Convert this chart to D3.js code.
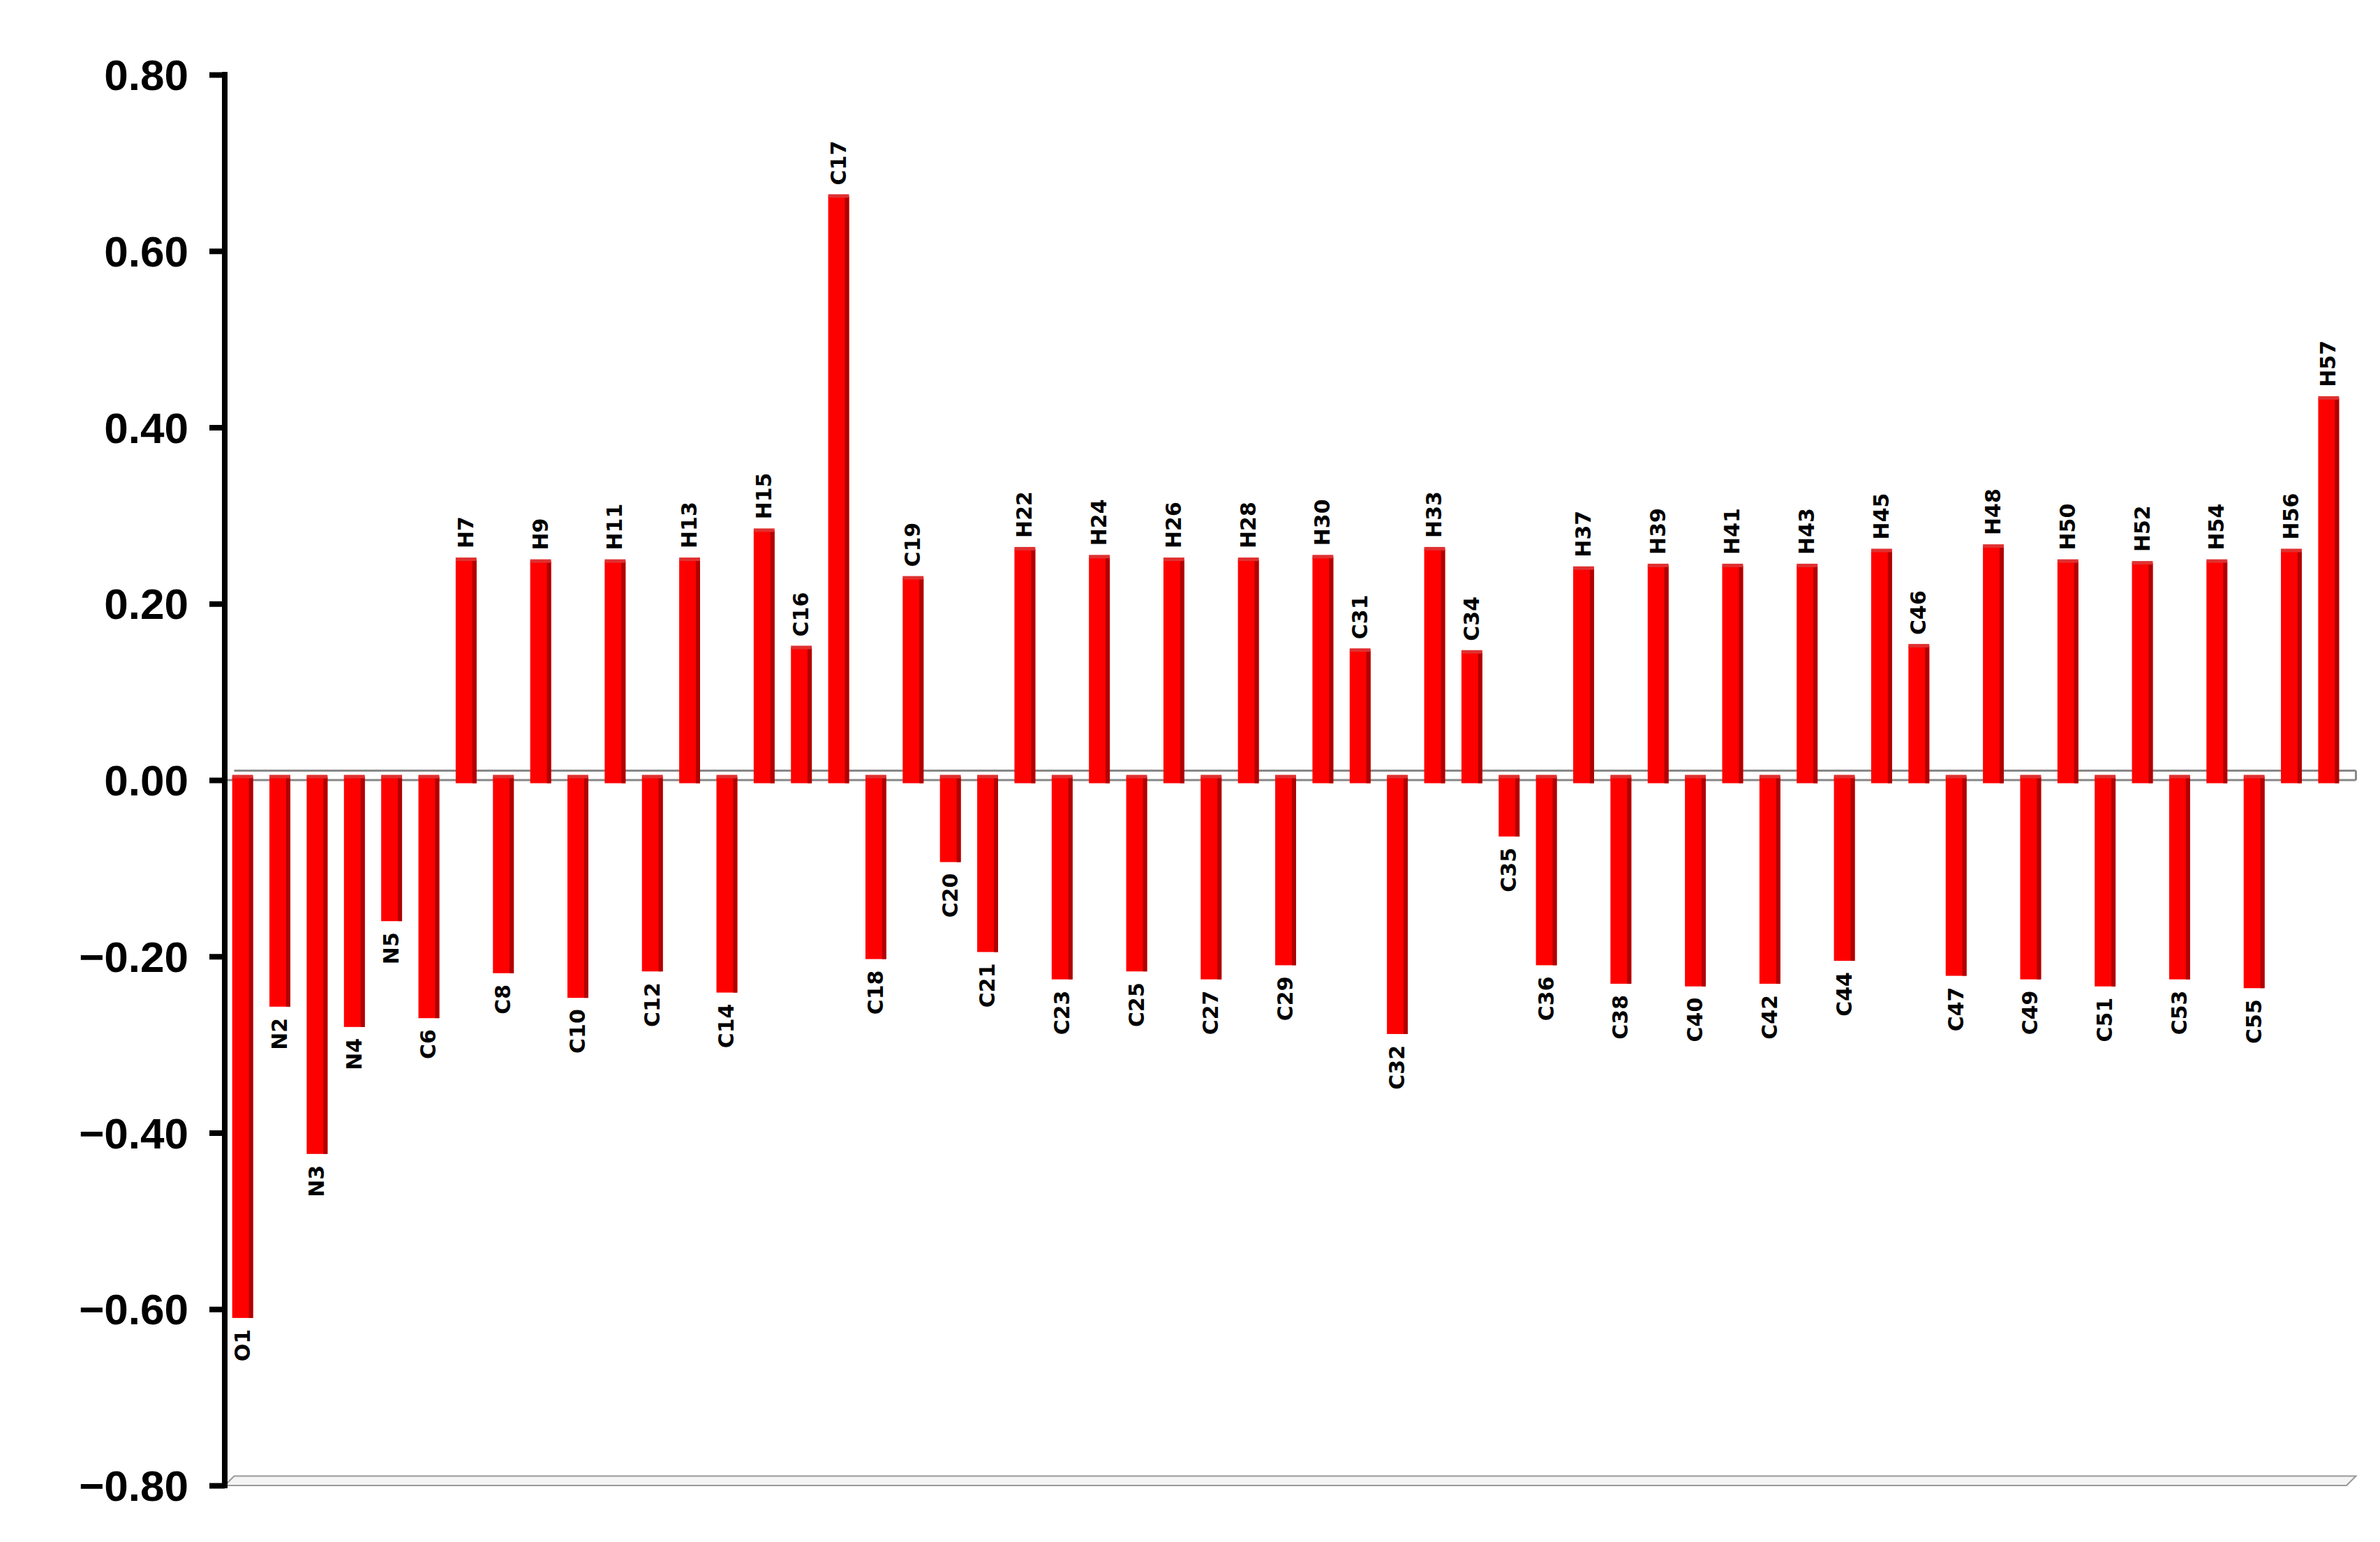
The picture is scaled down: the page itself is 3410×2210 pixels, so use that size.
<!DOCTYPE html>
<html>
<head>
<meta charset="utf-8">
<script src="https://cdn.jsdelivr.net/npm/d3@7"></script>
<style>
  body { margin: 0; background: #fff; }
</style>
</head>
<body>
<svg id="chart" width="3410" height="2210"></svg>
<script>
var atoms = ["O1","N2","N3","N4","N5","C6","H7","C8","H9","C10","H11","C12","H13","C14","H15","C16","C17","C18","C19","C20",
  "C21","H22","C23","H24","C25","H26","C27","H28","C29","H30","C31","C32","H33","C34","C35","C36","H37","C38","H39","C40",
  "H41","C42","H43","C44","H45","C46","C47","H48","C49","H50","C51","H52","C53","H54","C55","H56","H57"];
var charges = [-0.61,-0.257,-0.424,-0.28,-0.16,-0.27,0.25,-0.219,0.248,-0.247,0.248,-0.217,0.25,-0.241,0.283,0.15,0.662,-0.203,0.229,-0.093,
  -0.195,0.262,-0.226,0.253,-0.217,0.25,-0.226,0.25,-0.21,0.253,0.147,-0.288,0.262,0.145,-0.064,-0.21,0.24,-0.231,0.243,-0.234,
  0.243,-0.231,0.243,-0.205,0.26,0.152,-0.222,0.265,-0.226,0.248,-0.234,0.246,-0.226,0.248,-0.236,0.26,0.433];
var yTicks = [-0.8,-0.6,-0.4,-0.2,0,0.2,0.4,0.6,0.8];

var svg = d3.select("#chart");
var plotLeft = 322, plotRight = 3362, plotTop = 107, plotBottom = 2129;
var dx = 9, dy = 9; // depth of the fake 3d

var x = d3.scaleBand().domain(atoms).range([plotLeft, plotRight]).paddingInner(0.44).paddingOuter(0.2);
var y = d3.scaleLinear().domain([-0.8, 0.8]).range([plotBottom, plotTop]);

// floor at -0.80
svg.append("path")
  .attr("d", "M" + plotLeft + "," + plotBottom + "L" + (plotLeft + dx*1.5) + "," + (plotBottom - dy*1.5) +
        "L" + (plotRight + dx*1.5) + "," + (plotBottom - dy*1.5) + "L" + plotRight + "," + plotBottom + "Z")
  .attr("fill", "#f4f4f4").attr("stroke", "#999").attr("stroke-width", 2);

// zero plane
var y0 = y(0);
svg.append("line").attr("x1", plotLeft).attr("x2", plotRight + dx*1.5).attr("y1", y0).attr("y2", y0)
  .attr("stroke", "#888").attr("stroke-width", 3);
svg.append("line").attr("x1", plotLeft + dx*1.5).attr("x2", plotRight + dx*1.5).attr("y1", y0 - dy*1.5).attr("y2", y0 - dy*1.5)
  .attr("stroke", "#888").attr("stroke-width", 3);
svg.append("line").attr("x1", plotRight + dx*1.5).attr("x2", plotRight + dx*1.5).attr("y1", y0 - dy*1.5).attr("y2", y0)
  .attr("stroke", "#888").attr("stroke-width", 3);

var bars = svg.append("g").selectAll("g").data(atoms).enter().append("g");
var bw = x.bandwidth();

function barTop(i) { return charges[i] > 0 ? y(charges[i]) : y0 - dy/2; }
function barH(i) { return Math.abs(y(charges[i]) - y0) + dy/2; }

bars.append("rect")
  .attr("x", function(d) { return x(d); })
  .attr("width", bw)
  .attr("y", function(d, i) { return barTop(i); })
  .attr("height", function(d, i) { return barH(i); })
  .attr("fill", "#ff0000");
bars.append("rect")
  .attr("x", function(d) { return x(d) + bw - 6; })
  .attr("width", 6)
  .attr("y", function(d, i) { return barTop(i); })
  .attr("height", function(d, i) { return barH(i); })
  .attr("fill", "#b00000");
bars.append("rect")
  .attr("x", function(d) { return x(d); })
  .attr("width", bw)
  .attr("y", function(d, i) { return barTop(i) - 3; })
  .attr("height", 5)
  .attr("fill", "#e03030");

bars.append("text")
  .attr("transform", function(d, i) {
    var cx = x(d) + bw / 2 + 10;
    var v = charges[i];
    var yy = v > 0 ? y(v) - 16 : y(v) + 16;
    return "translate(" + cx + "," + yy + ") rotate(-90)";
  })
  .attr("text-anchor", function(d, i) { return charges[i] > 0 ? "start" : "end"; })
  .attr("font-family", "DejaVu Sans")
  .attr("font-weight", "bold")
  .attr("font-size", 30)
  .text(function(d) { return d; });

// y axis
var axis = d3.axisLeft(y).tickValues(yTicks).tickSize(22).tickPadding(30)
  .tickFormat(function(d) { return d3.format(".2f")(d).replace("-", "\u2212"); });
var ga = svg.append("g").attr("transform", "translate(" + plotLeft + ",0)").call(axis);
ga.select(".domain").attr("stroke", "#000").attr("stroke-width", 8)
  .attr("d", "M0," + (plotTop - 4) + "V" + (plotBottom + 4));
ga.selectAll(".tick line").attr("stroke", "#000").attr("stroke-width", 8);
ga.selectAll(".tick text").attr("font-family", "Liberation Sans").attr("font-weight", "bold")
  .attr("font-size", 62).attr("fill", "#000").attr("dy", "0.35em");
</script>
</body>
</html>
